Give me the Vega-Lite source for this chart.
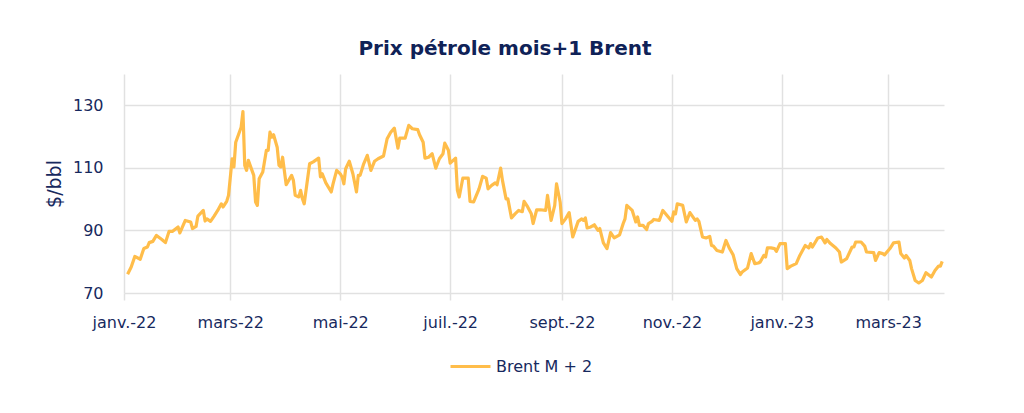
{
  "$schema": "https://vega.github.io/schema/vega-lite/v6.json",
  "width": 820,
  "height": 219,
  "autosize": {"type": "none"},
  "padding": {"left": 124, "top": 74, "right": 80, "bottom": 120},
  "background": "#ffffff",
  "config": {
    "view": {"stroke": null},
    "font": "DejaVu Sans",
    "axis": {
      "labelColor": "#17295e",
      "titleColor": "#17295e",
      "gridColor": "#e1e1e1",
      "gridWidth": 1.5,
      "tickColor": "#e1e1e1",
      "tickWidth": 1.5,
      "domain": false
    }
  },
  "title": {
    "text": "Prix pétrole mois+1 Brent",
    "fontSize": 20,
    "fontWeight": "bold",
    "color": "#0f2257",
    "anchor": "middle",
    "dx": -29,
    "offset": 15
  },
  "data": {
    "values": [
      {"date": "2022-01-03", "prix": 76.0},
      {"date": "2022-01-05", "prix": 78.3},
      {"date": "2022-01-07", "prix": 81.7},
      {"date": "2022-01-10", "prix": 80.8},
      {"date": "2022-01-12", "prix": 84.2},
      {"date": "2022-01-14", "prix": 84.7},
      {"date": "2022-01-15", "prix": 86.1},
      {"date": "2022-01-17", "prix": 86.5},
      {"date": "2022-01-19", "prix": 88.4},
      {"date": "2022-01-22", "prix": 87.1},
      {"date": "2022-01-24", "prix": 86.1},
      {"date": "2022-01-26", "prix": 89.7},
      {"date": "2022-01-28", "prix": 89.7},
      {"date": "2022-01-31", "prix": 91.1},
      {"date": "2022-02-01", "prix": 89.2},
      {"date": "2022-02-04", "prix": 93.2},
      {"date": "2022-02-07", "prix": 92.7},
      {"date": "2022-02-08", "prix": 90.6},
      {"date": "2022-02-10", "prix": 91.3},
      {"date": "2022-02-11", "prix": 94.6},
      {"date": "2022-02-14", "prix": 96.4},
      {"date": "2022-02-15", "prix": 93.0},
      {"date": "2022-02-16", "prix": 93.7},
      {"date": "2022-02-18", "prix": 92.9},
      {"date": "2022-02-20", "prix": 94.6},
      {"date": "2022-02-22", "prix": 96.4},
      {"date": "2022-02-24", "prix": 98.5},
      {"date": "2022-02-25", "prix": 97.5},
      {"date": "2022-02-27", "prix": 99.3},
      {"date": "2022-02-28", "prix": 101.2},
      {"date": "2022-03-02", "prix": 112.9},
      {"date": "2022-03-03", "prix": 110.3},
      {"date": "2022-03-04", "prix": 118.2},
      {"date": "2022-03-07", "prix": 123.0},
      {"date": "2022-03-08", "prix": 128.0},
      {"date": "2022-03-09", "prix": 110.8},
      {"date": "2022-03-10", "prix": 109.2},
      {"date": "2022-03-11", "prix": 112.4},
      {"date": "2022-03-14", "prix": 107.6},
      {"date": "2022-03-15", "prix": 99.1},
      {"date": "2022-03-16", "prix": 98.0},
      {"date": "2022-03-17", "prix": 106.5},
      {"date": "2022-03-19", "prix": 108.7},
      {"date": "2022-03-21", "prix": 115.6},
      {"date": "2022-03-22", "prix": 115.6},
      {"date": "2022-03-23", "prix": 121.4},
      {"date": "2022-03-24", "prix": 119.8},
      {"date": "2022-03-25", "prix": 120.6},
      {"date": "2022-03-27", "prix": 116.6},
      {"date": "2022-03-28", "prix": 110.8},
      {"date": "2022-03-29", "prix": 110.3},
      {"date": "2022-03-30", "prix": 113.4},
      {"date": "2022-04-01", "prix": 104.6},
      {"date": "2022-04-04", "prix": 107.6},
      {"date": "2022-04-05", "prix": 106.0},
      {"date": "2022-04-06", "prix": 101.2},
      {"date": "2022-04-08", "prix": 100.7},
      {"date": "2022-04-09", "prix": 102.8},
      {"date": "2022-04-10", "prix": 100.1},
      {"date": "2022-04-11", "prix": 98.5},
      {"date": "2022-04-14", "prix": 111.3},
      {"date": "2022-04-16", "prix": 111.9},
      {"date": "2022-04-19", "prix": 113.1},
      {"date": "2022-04-20", "prix": 107.1},
      {"date": "2022-04-21", "prix": 108.1},
      {"date": "2022-04-23", "prix": 105.2},
      {"date": "2022-04-26", "prix": 102.3},
      {"date": "2022-04-27", "prix": 104.9},
      {"date": "2022-04-29", "prix": 109.2},
      {"date": "2022-05-01", "prix": 108.1},
      {"date": "2022-05-02", "prix": 107.1},
      {"date": "2022-05-03", "prix": 104.9},
      {"date": "2022-05-04", "prix": 109.7},
      {"date": "2022-05-06", "prix": 112.1},
      {"date": "2022-05-08", "prix": 108.1},
      {"date": "2022-05-10", "prix": 102.3},
      {"date": "2022-05-11", "prix": 107.6},
      {"date": "2022-05-12", "prix": 107.6},
      {"date": "2022-05-14", "prix": 111.3},
      {"date": "2022-05-16", "prix": 114.0},
      {"date": "2022-05-18", "prix": 109.2},
      {"date": "2022-05-20", "prix": 112.1},
      {"date": "2022-05-22", "prix": 112.9},
      {"date": "2022-05-25", "prix": 113.8},
      {"date": "2022-05-27", "prix": 119.3},
      {"date": "2022-05-29", "prix": 121.4},
      {"date": "2022-05-31", "prix": 122.7},
      {"date": "2022-06-02", "prix": 116.3},
      {"date": "2022-06-03", "prix": 119.5},
      {"date": "2022-06-06", "prix": 119.5},
      {"date": "2022-06-08", "prix": 123.6},
      {"date": "2022-06-10", "prix": 122.5},
      {"date": "2022-06-13", "prix": 122.2},
      {"date": "2022-06-14", "prix": 120.6},
      {"date": "2022-06-16", "prix": 118.2},
      {"date": "2022-06-17", "prix": 113.1},
      {"date": "2022-06-19", "prix": 113.4},
      {"date": "2022-06-21", "prix": 114.5},
      {"date": "2022-06-23", "prix": 109.9},
      {"date": "2022-06-25", "prix": 112.9},
      {"date": "2022-06-27", "prix": 114.5},
      {"date": "2022-06-28", "prix": 117.9},
      {"date": "2022-06-30", "prix": 115.6},
      {"date": "2022-07-01", "prix": 111.5},
      {"date": "2022-07-04", "prix": 113.1},
      {"date": "2022-07-05", "prix": 102.8},
      {"date": "2022-07-06", "prix": 100.7},
      {"date": "2022-07-08", "prix": 106.7},
      {"date": "2022-07-11", "prix": 106.7},
      {"date": "2022-07-12", "prix": 99.3},
      {"date": "2022-07-14", "prix": 99.1},
      {"date": "2022-07-17", "prix": 103.3},
      {"date": "2022-07-19", "prix": 107.3},
      {"date": "2022-07-21", "prix": 106.7},
      {"date": "2022-07-22", "prix": 103.3},
      {"date": "2022-07-24", "prix": 104.4},
      {"date": "2022-07-26", "prix": 105.2},
      {"date": "2022-07-27", "prix": 104.6},
      {"date": "2022-07-29", "prix": 109.9},
      {"date": "2022-07-30", "prix": 106.0},
      {"date": "2022-08-01", "prix": 100.1},
      {"date": "2022-08-02", "prix": 100.1},
      {"date": "2022-08-04", "prix": 94.0},
      {"date": "2022-08-06", "prix": 95.3},
      {"date": "2022-08-08", "prix": 96.4},
      {"date": "2022-08-10", "prix": 96.0},
      {"date": "2022-08-11", "prix": 99.3},
      {"date": "2022-08-13", "prix": 97.5},
      {"date": "2022-08-15", "prix": 95.3},
      {"date": "2022-08-16", "prix": 92.2},
      {"date": "2022-08-18", "prix": 96.6},
      {"date": "2022-08-20", "prix": 96.6},
      {"date": "2022-08-23", "prix": 96.4},
      {"date": "2022-08-24", "prix": 101.2},
      {"date": "2022-08-26", "prix": 93.2},
      {"date": "2022-08-28", "prix": 98.0},
      {"date": "2022-08-29", "prix": 104.9},
      {"date": "2022-08-31", "prix": 99.1},
      {"date": "2022-09-01", "prix": 92.2},
      {"date": "2022-09-03", "prix": 93.7},
      {"date": "2022-09-05", "prix": 95.7},
      {"date": "2022-09-07", "prix": 87.9},
      {"date": "2022-09-10", "prix": 92.9},
      {"date": "2022-09-12", "prix": 93.7},
      {"date": "2022-09-13", "prix": 93.2},
      {"date": "2022-09-14", "prix": 94.0},
      {"date": "2022-09-15", "prix": 90.8},
      {"date": "2022-09-17", "prix": 91.1},
      {"date": "2022-09-19", "prix": 91.8},
      {"date": "2022-09-21", "prix": 90.0},
      {"date": "2022-09-22", "prix": 90.6},
      {"date": "2022-09-24", "prix": 86.0},
      {"date": "2022-09-26", "prix": 84.2},
      {"date": "2022-09-28", "prix": 89.3},
      {"date": "2022-09-30", "prix": 87.6},
      {"date": "2022-10-03", "prix": 88.6},
      {"date": "2022-10-05", "prix": 92.2},
      {"date": "2022-10-06", "prix": 93.7},
      {"date": "2022-10-07", "prix": 98.0},
      {"date": "2022-10-10", "prix": 96.4},
      {"date": "2022-10-12", "prix": 92.7},
      {"date": "2022-10-13", "prix": 94.3},
      {"date": "2022-10-14", "prix": 91.6},
      {"date": "2022-10-16", "prix": 91.6},
      {"date": "2022-10-18", "prix": 90.3},
      {"date": "2022-10-19", "prix": 92.2},
      {"date": "2022-10-21", "prix": 92.9},
      {"date": "2022-10-22", "prix": 93.5},
      {"date": "2022-10-25", "prix": 93.2},
      {"date": "2022-10-27", "prix": 96.4},
      {"date": "2022-10-30", "prix": 94.3},
      {"date": "2022-11-01", "prix": 92.9},
      {"date": "2022-11-02", "prix": 95.9},
      {"date": "2022-11-03", "prix": 95.3},
      {"date": "2022-11-04", "prix": 98.5},
      {"date": "2022-11-07", "prix": 98.0},
      {"date": "2022-11-09", "prix": 92.7},
      {"date": "2022-11-11", "prix": 95.7},
      {"date": "2022-11-14", "prix": 93.2},
      {"date": "2022-11-15", "prix": 93.7},
      {"date": "2022-11-16", "prix": 92.9},
      {"date": "2022-11-18", "prix": 87.9},
      {"date": "2022-11-20", "prix": 87.6},
      {"date": "2022-11-22", "prix": 88.1},
      {"date": "2022-11-23", "prix": 85.2},
      {"date": "2022-11-24", "prix": 85.0},
      {"date": "2022-11-26", "prix": 83.6},
      {"date": "2022-11-29", "prix": 83.1},
      {"date": "2022-12-01", "prix": 86.8},
      {"date": "2022-12-03", "prix": 84.2},
      {"date": "2022-12-05", "prix": 82.2},
      {"date": "2022-12-07", "prix": 77.8},
      {"date": "2022-12-09", "prix": 75.9},
      {"date": "2022-12-10", "prix": 76.7},
      {"date": "2022-12-13", "prix": 78.0},
      {"date": "2022-12-15", "prix": 82.6},
      {"date": "2022-12-17", "prix": 79.4},
      {"date": "2022-12-19", "prix": 79.6},
      {"date": "2022-12-20", "prix": 79.9},
      {"date": "2022-12-22", "prix": 82.0},
      {"date": "2022-12-23", "prix": 81.5},
      {"date": "2022-12-24", "prix": 84.4},
      {"date": "2022-12-26", "prix": 84.4},
      {"date": "2022-12-28", "prix": 84.2},
      {"date": "2022-12-29", "prix": 83.3},
      {"date": "2022-12-31", "prix": 85.8},
      {"date": "2023-01-03", "prix": 85.8},
      {"date": "2023-01-04", "prix": 77.8},
      {"date": "2023-01-06", "prix": 78.6},
      {"date": "2023-01-09", "prix": 79.4},
      {"date": "2023-01-11", "prix": 82.0},
      {"date": "2023-01-14", "prix": 85.2},
      {"date": "2023-01-16", "prix": 84.4},
      {"date": "2023-01-17", "prix": 85.8},
      {"date": "2023-01-18", "prix": 84.7},
      {"date": "2023-01-21", "prix": 87.6},
      {"date": "2023-01-23", "prix": 87.9},
      {"date": "2023-01-25", "prix": 86.0},
      {"date": "2023-01-26", "prix": 87.1},
      {"date": "2023-01-28", "prix": 85.8},
      {"date": "2023-01-31", "prix": 84.4},
      {"date": "2023-02-02", "prix": 83.1},
      {"date": "2023-02-03", "prix": 79.9},
      {"date": "2023-02-06", "prix": 81.0},
      {"date": "2023-02-09", "prix": 84.7},
      {"date": "2023-02-10", "prix": 84.7},
      {"date": "2023-02-11", "prix": 86.3},
      {"date": "2023-02-14", "prix": 86.3},
      {"date": "2023-02-16", "prix": 85.0},
      {"date": "2023-02-17", "prix": 83.1},
      {"date": "2023-02-21", "prix": 82.9},
      {"date": "2023-02-22", "prix": 80.4},
      {"date": "2023-02-24", "prix": 82.9},
      {"date": "2023-02-26", "prix": 82.6},
      {"date": "2023-02-27", "prix": 82.2},
      {"date": "2023-03-02", "prix": 84.2},
      {"date": "2023-03-04", "prix": 86.0},
      {"date": "2023-03-07", "prix": 86.3},
      {"date": "2023-03-08", "prix": 82.6},
      {"date": "2023-03-10", "prix": 81.2},
      {"date": "2023-03-11", "prix": 82.0},
      {"date": "2023-03-13", "prix": 80.4},
      {"date": "2023-03-14", "prix": 77.8},
      {"date": "2023-03-16", "prix": 74.0},
      {"date": "2023-03-18", "prix": 73.2},
      {"date": "2023-03-20", "prix": 74.0},
      {"date": "2023-03-22", "prix": 76.5},
      {"date": "2023-03-25", "prix": 75.1},
      {"date": "2023-03-27", "prix": 77.2},
      {"date": "2023-03-29", "prix": 78.6},
      {"date": "2023-03-30", "prix": 78.6},
      {"date": "2023-03-31", "prix": 80.1}
    ]
  },
  "mark": {"type": "line", "strokeWidth": 3.2, "strokeJoin": "round"},
  "encoding": {
    "x": {
      "field": "date",
      "type": "temporal",
      "title": null,
      "scale": {
        "type": "utc",
        "nice": false,
        "domain": [
          {"year": 2022, "month": 1, "date": 1, "utc": true},
          {"year": 2023, "month": 4, "date": 1, "utc": true}
        ]
      },
      "axis": {
        "tickCount": {"interval": "month", "step": 2},
        "labelExpr": "['janv.','févr.','mars','avr.','mai','juin','juil.','août','sept.','oct.','nov.','déc.'][utcmonth(datum.value)] + '-' + utcFormat(datum.value, '%y')",
        "labelFontSize": 16,
        "labelPadding": 14,
        "tickSize": 7,
        "labelFlush": false
      }
    },
    "y": {
      "field": "prix",
      "type": "quantitative",
      "title": "$/bbl",
      "scale": {"domain": [70, 140], "nice": false},
      "axis": {
        "values": [70, 90, 110, 130],
        "ticks": false,
        "labelFontSize": 16,
        "labelPadding": 21,
        "titleFontSize": 19,
        "titleFontWeight": "normal",
        "titlePadding": 8
      }
    },
    "color": {
      "datum": "Brent M + 2",
      "scale": {"range": ["#ffbd4a"]},
      "legend": {
        "title": null,
        "orient": "none",
        "legendX": 325,
        "legendY": 271,
        "symbolType": "stroke",
        "symbolSize": 1600,
        "symbolStrokeWidth": 3,
        "labelFontSize": 16,
        "labelColor": "#17295e",
        "labelOffset": 4
      }
    }
  }
}
